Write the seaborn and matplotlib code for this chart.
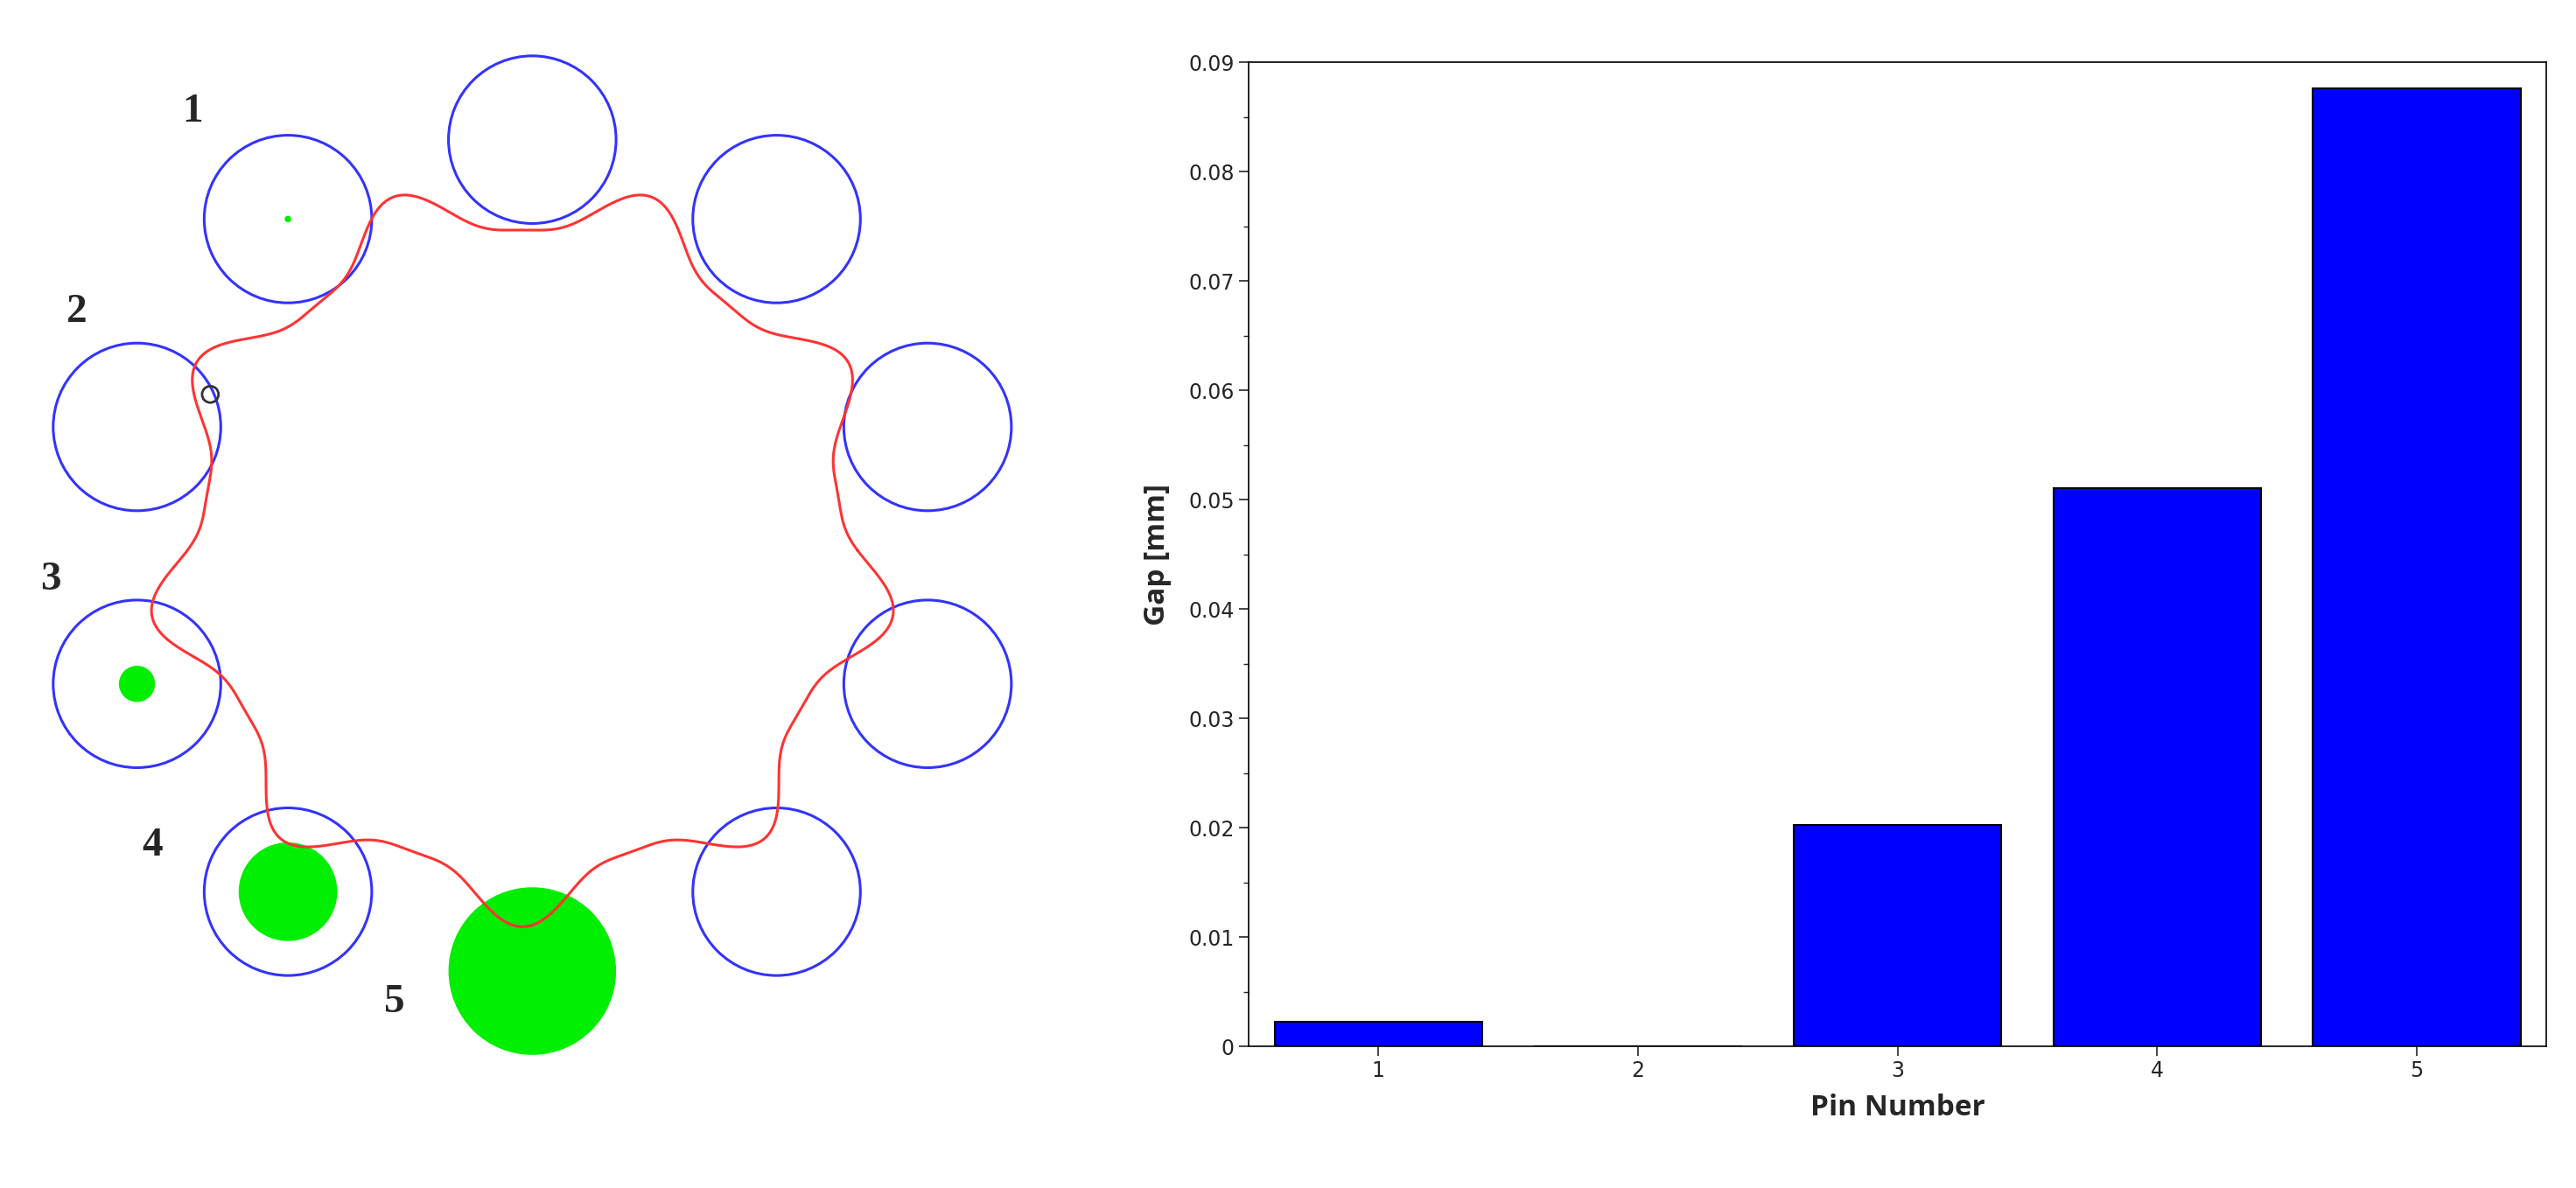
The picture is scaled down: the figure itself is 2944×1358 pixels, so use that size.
import numpy as np
import pandas as pd
import matplotlib
matplotlib.use("Agg")
import matplotlib.pyplot as plt
import seaborn as sns
from matplotlib.patches import Circle
from matplotlib.ticker import MultipleLocator

# bar chart data
pins = [1, 2, 3, 4, 5]
gap_mm = [0.0023, 0.0, 0.0203, 0.0511, 0.0876]

# left sketch: pin angles, labels, label positions (reference pixels)
pin_angles = [90, 54, 18, -18, -54, -90, -126, -162, 162, 126]
pin_labels = ["1", "2", "3", "4", "5"]
label_xy = [(117, 68), (47, 190), (31, 353), (93, 515), (240, 610)]
# green gap marks: pin index -> radius
green_pins = {9: 2, 8: 0, 7: 11, 6: 30, 5: 51}

sns.set_theme(style="white")
fig = plt.figure(figsize=(29.44, 13.58), dpi=100)
W, H = 1568, 723

# ---- left: mechanism sketch
ax0 = fig.add_axes([0, 0, 650 / W, 1])
ax0.set_xlim(0, 650)
ax0.set_ylim(H, 0)
ax0.axis("off")
cx, cy, R, rp = 324, 338, 253, 51
centers = [(cx + R * np.cos(np.deg2rad(a)), cy - R * np.sin(np.deg2rad(a))) for a in pin_angles]
for i, (x, y) in enumerate(centers):
    if i == 5:
        continue
    ax0.add_patch(Circle((x, y), rp, fill=False, ec="#3333ff", lw=2.2))
for i, r in green_pins.items():
    if r > 0:
        x, y = centers[i]
        ax0.add_patch(Circle((x, y), r, color="#00ee00", ec="none"))

# cycloid-like disk, shifted slightly toward pin 2
phi = np.linspace(0, 2 * np.pi, 1000)
u = 9 * (phi - np.pi / 2)
rr = 208 - 17 * np.cos(u) + 4 * np.cos(2 * u)
ax0.plot(cx - 6 + rr * np.cos(phi), cy - 3 - rr * np.sin(phi), color="#ff3333", lw=2.2)
ax0.add_patch(Circle((128, 240), 5, fill=False, ec="#333333", lw=2))

for s, (x, y) in zip(pin_labels, label_xy):
    ax0.text(x, y, s, fontsize=34, fontweight="bold", family="Liberation Serif",
             ha="center", va="center")

# ---- right: bar chart
ax = fig.add_axes([760 / W, 1 - 637 / H, 790 / W, 599 / H])
df = pd.DataFrame({"pin": pins, "gap": gap_mm})
sns.barplot(data=df, x="pin", y="gap", color="#0000ff", saturation=1,
            edgecolor="black", linewidth=1.5, width=0.8, ax=ax)
ax.set_ylim(0, 0.09)
ax.yaxis.set_minor_locator(MultipleLocator(0.005))
ax.set_yticks(np.arange(0, 0.0901, 0.01))
ax.set_yticklabels(["0"] + [f"{v:.2f}" for v in np.arange(0.01, 0.0901, 0.01)])
ax.tick_params(axis="both", which="major", direction="out", length=8, width=1.2,
               labelsize=17, bottom=True, left=True)
ax.tick_params(axis="y", which="minor", direction="out", length=4, width=1, left=True)
for sp in ax.spines.values():
    sp.set_color("black")
    sp.set_linewidth(1.2)
ax.set_xlabel("Pin Number", fontsize=24, fontweight="bold", family="Open Sans", labelpad=10)
ax.set_ylabel("Gap [mm]", fontsize=24, fontweight="bold", family="Open Sans", labelpad=14)

fig.savefig("out.png", dpi=100)
